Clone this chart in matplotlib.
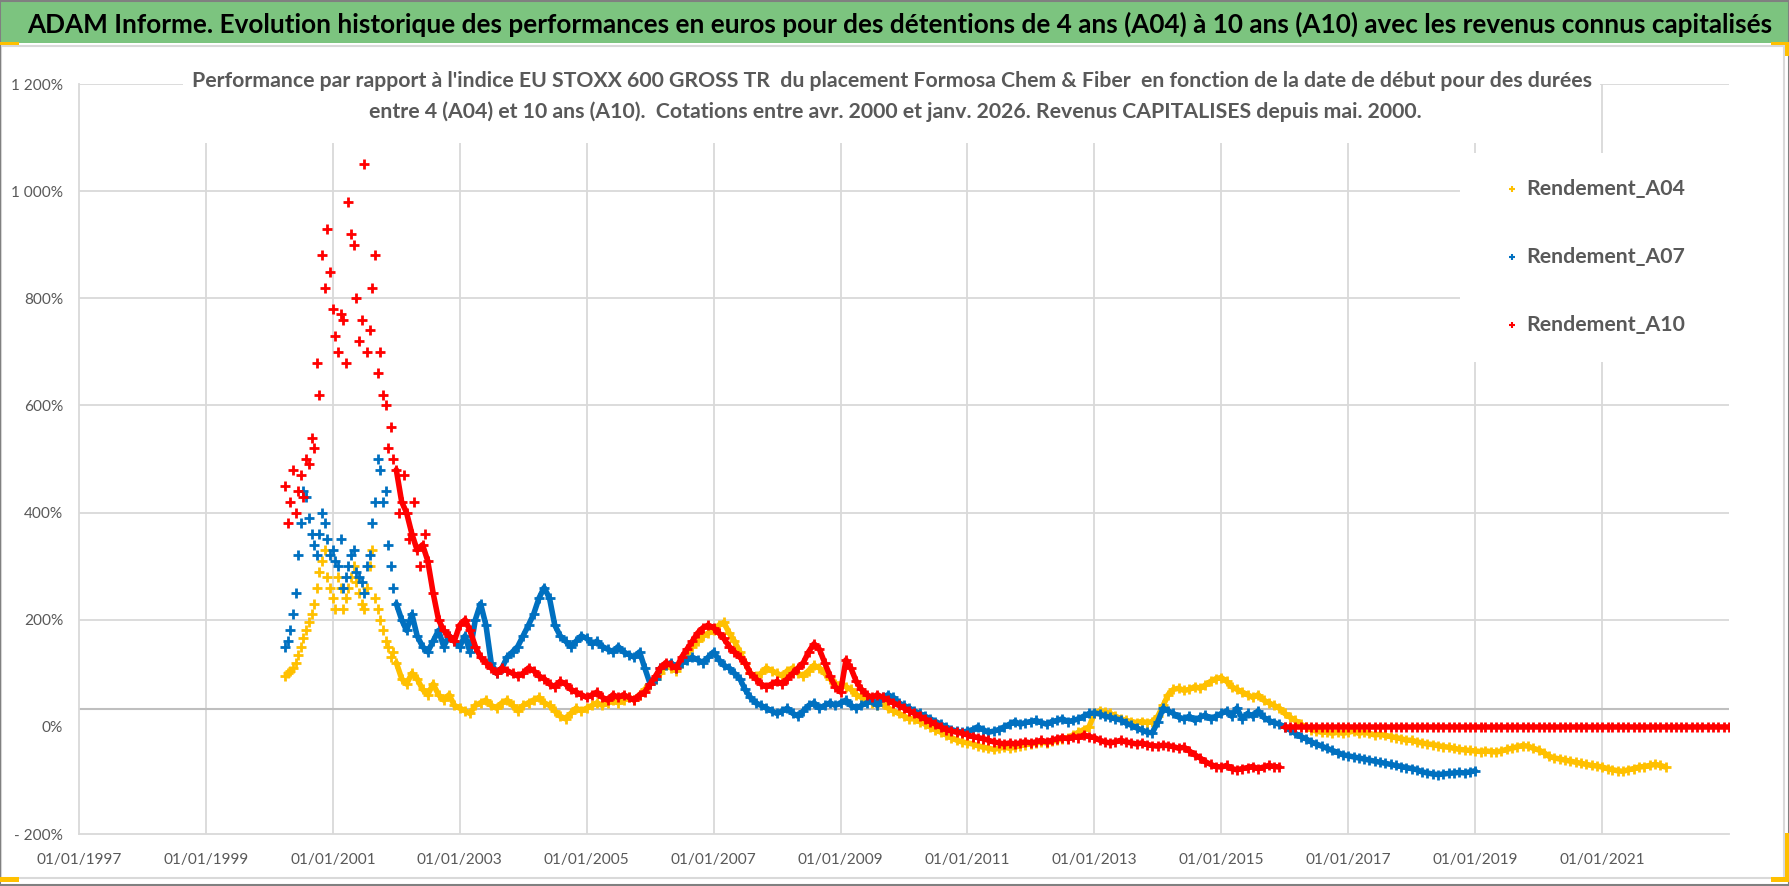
import matplotlib
matplotlib.use("Agg")
import matplotlib.pyplot as plt
from matplotlib.patches import Rectangle
from matplotlib.lines import Line2D
import pandas as pd

# ---------------------------------------
# data (monthly, performance in %)
# ---------------------------------------
a04 = [95, 105, 120, 150, 180, 210, 260, 310, 280,
       240, 280, 220, 260, 300, 250, 220, 300, 240, 200, 160, 130,
       120, 90, 80, 100, 90, 70, 60, 80, 60, 50, 60, 40,
       35, 30, 25, 40, 45, 50, 40, 35, 45, 50, 40, 30,
       40, 45, 50, 55, 45, 40, 30, 20, 15, 25, 35, 30,
       35, 40, 45, 40, 45, 50, 45, 50, 55, 50, 60, 70,
       80, 90, 100, 115, 110, 105, 120, 135, 150, 160, 170, 175,
       180, 190, 195, 175, 160, 140, 120, 100, 95, 100, 110, 105,
       100, 95, 105, 110, 100, 95, 105, 115, 110, 100, 90, 80,
       80, 75, 70, 60, 55, 50, 45, 40, 45, 35, 30, 25,
       20, 15, 15, 10, 5, 0, -5, -10, -15, -20, -25, -28,
       -30, -32, -35, -38, -40, -42, -40, -38, -40, -38, -35, -33,
       -32, -30, -28, -30, -27, -25, -22, -20, -15, -10, -5, 0,
       25, 30, 28, 25, 20, 15, 12, 10, 8, 10, 8, 10,
       20, 40, 60, 70, 72, 68, 70, 75, 72, 78, 85, 90,
       92, 85, 75, 70, 65, 60, 55, 60, 50, 45, 40, 35,
       25, 18, 12, 5, 0, -5, -8, -10, -10, -12, -10, -12,
       -10, -8, -12, -10, -12, -15, -14, -16, -18, -20, -22, -25,
       -25, -28, -30, -32, -33, -35, -37, -38, -40, -42, -43, -44,
       -45, -46, -45, -46, -47, -45, -42, -40, -37, -35, -36, -40,
       -43, -48, -55, -58, -60, -62, -64, -66, -68, -70, -72, -73,
       -75, -78, -80, -82, -83, -80, -78, -75, -74, -72, -70, -72,
       -75]

a07 = [150, 180, 250, 380, 430, 360, 320, 400, 350,
       330, 300, 260, 300, 330, 280, 250, 320, 420, 480, 440, 300,
       230, 200, 180, 210, 170, 150, 140, 160, 180, 150, 170, 160,
       150, 170, 140, 200, 230, 190, 120, 100, 110, 130, 140, 150,
       170, 190, 210, 240, 260, 240, 190, 170, 160, 150, 160, 170,
       165, 155, 160, 150, 145, 140, 150, 140, 135, 130, 140, 110,
       80, 90, 110, 115, 120, 110, 120, 125, 130, 125, 120, 130,
       140, 125, 115, 110, 100, 90, 70, 55, 45, 40, 35, 30,
       25, 30, 35, 25, 20, 30, 40, 45, 35, 40, 45, 40,
       45, 50, 40, 35, 40, 45, 50, 40, 55, 60, 55, 45,
       40, 35, 30, 25, 20, 15, 10, 5, 0, -5, -8, -10,
       -8, -5, 0, -5, -10, -8, -5, 0, 5, 10, 5, 8,
       10, 12, 8, 5, 10, 12, 15, 10, 12, 15, 20, 25,
       26, 24, 20, 18, 15, 13, 7, 3, -2, -6, -10, -11,
       10, 35, 30, 25, 18, 15, 20, 12, 18, 22, 15, 20,
       25, 30, 20, 35, 15, 25, 20, 30, 18, 12, 8, 5,
       0, -6, -12, -18, -22, -28, -32, -36, -40, -44, -48, -52,
       -54, -56, -58, -60, -62, -64, -66, -68, -70, -72, -74, -76,
       -78, -80, -84, -86, -88, -89, -88, -87, -86, -85, -86, -84,
       -82]

a10 = [450, 420, 400, 470, 500, 540, 680, 880, 930,
       780, 700, 760, 980, 900, 720, 1050, 740, 880, 700, 600, 560,
       480, 420, 400, 360, 330, 340, 310, 250, 200, 180, 170, 160,
       190, 200, 180, 150, 130, 120, 110, 100, 110, 105, 100, 95,
       100, 110, 105, 95, 90, 80, 75, 85, 80, 70, 65, 60,
       55, 60, 65, 55, 50, 60, 55, 60, 55, 50, 60, 65,
       80, 95, 110, 120, 115, 110, 130, 145, 160, 175, 185, 190,
       185, 175, 165, 150, 140, 130, 120, 100, 90, 80, 75, 80,
       85, 80, 90, 100, 110, 120, 140, 155, 145, 120, 95, 75,
       65, 125, 110, 85, 70, 60, 55, 60, 55, 50, 45, 40,
       35, 30, 25, 20, 15, 10, 5, 0, -5, -8, -10, -12,
       -15, -18, -20, -22, -25, -28, -30, -32, -30, -32, -30, -28,
       -30, -28, -25, -28, -25, -22, -20, -22, -18, -20, -15, -18,
       -20, -25, -28, -30, -28, -25, -28, -30, -32, -30, -33, -35,
       -36, -34, -35, -37, -40, -38, -45, -52, -58, -65, -70, -74,
       -75, -72, -78, -80, -78, -76, -74, -78, -75, -72, -74, -75]
a10_flat = [0] * 85          # flat 0% values from 01/2016 to 01/2023

# extra mid-month readings in the scattered 2000-2002 part (15th of each month from 04/2000)
a04_mid = [100, 110, 135, 165, 195, 230, 290, 330, 260,
           220, 260, 240, 280, 270, 230, 260, 330, 220, 180, 150, 140]
a07_mid = [160, 210, 320, 440, 390, 340, 360, 380, 320,
           310, 350, 280, 320, 290, 270, 300, 380, 500, 420, 340, 260]
a10_mid = [380, 480, 440, 430, 490, 520, 620, 820, 850,
           730, 770, 680, 920, 800, 760, 700, 820, 660, 620, 520, 500,
           400, 470, 350, 420, 300, 360]

series_names = ["Rendement_A04", "Rendement_A07", "Rendement_A10"]
series_colors = ["#FFC000", "#0070C0", "#FF0000"]

y_ticks = [-200, 0, 200, 400, 600, 800, 1000, 1200]
y_labels = ["- 200%", "0%", "200%", "400%", "600%", "800%", "1 000%", "1 200%"]
x_years = list(range(1997, 2022, 2))
axis_cross = 34               # darker horizontal axis line

title = ("ADAM Informe. Evolution historique des performances en euros pour des détentions "
         "de 4 ans (A04) à 10 ans (A10) avec les revenus connus capitalisés")
subtitle1 = ("Performance par rapport à l'indice EU STOXX 600 GROSS TR  du placement Formosa Chem & Fiber  "
             "en fonction de la date de début pour des durées")
subtitle2 = ("entre 4 (A04) et 10 ans (A10).  Cotations entre avr. 2000 et janv. 2026. "
             "Revenus CAPITALISES depuis mai. 2000.")

# ---------------------------------------
W, H = 1790, 886
FONT = "Lato"
GREY_TXT = "#595959"
GRID = "#D9D9D9"
CALM_START = pd.Timestamp("2002-01-01")   # dense band drawn as a thick trace from here

fig = plt.figure(figsize=(W / 100, H / 100), dpi=100)
fig.patch.set_facecolor("white")


def fx(x):
    return x / W


def fy(y):
    return 1 - y / H


def rect(x0, y0, x1, y1, **kw):
    r = Rectangle((fx(x0), fy(y1)), fx(x1) - fx(x0), fy(y0) - fy(y1),
                  transform=fig.transFigure, **kw)
    fig.add_artist(r)
    return r


renderer = fig.canvas.get_renderer()


def fit(txt, width_px):
    w = txt.get_window_extent(renderer).width
    txt.set_fontsize(txt.get_fontsize() * width_px / w)
    return txt.get_fontsize()


# frames and banner
rect(0, 0, W, 43, facecolor="#7CC47F", edgecolor="none", zorder=-2)
rect(1, 46, 1784, 878, facecolor="white", edgecolor=GRID, lw=1.5, zorder=-2)
rect(0.5, 0.5, W - 1, H - 1, facecolor="none", edgecolor="#808080", lw=1.5, zorder=5)
for (x0, y0, x1, y1) in [(0, 42, 19, 45), (1771, 42, 1790, 45), (1785, 42, 1790, 56),
                         (0, 877, 19, 882), (1771, 877, 1790, 882), (1785, 833, 1790, 882)]:
    rect(x0, y0, x1, y1, facecolor="#FFC000", edgecolor="none", zorder=6)

t = fig.text(fx(27), fy(33), title, fontsize=20, fontweight="bold", family=FONT,
             color="black", ha="left", va="baseline")
fit(t, 1741)

# ---------------------------------------
ax = fig.add_axes([fx(79), fy(834), fx(1729) - fx(79), fy(84) - fy(834)])
ax.patch.set_visible(False)

d04 = pd.date_range("2000-04-01", periods=len(a04), freq="MS")
d07 = pd.date_range("2000-04-01", periods=len(a07), freq="MS")
d10 = pd.date_range("2000-04-01", periods=len(a10), freq="MS")
d10_flat = pd.date_range("2016-01-01", periods=len(a10_flat), freq="MS")


def mid_dates(n):
    return pd.date_range("2000-04-01", periods=n, freq="MS") + pd.Timedelta(days=14)


def draw(d, v, c, label=None):
    s = pd.Series(v, index=d)
    calm = s[s.index >= CALM_START]
    ax.plot(calm.index, calm.values, color=c, lw=4, solid_capstyle="round", zorder=3)
    ax.plot(s.index, s.values, linestyle="none", marker="+", markersize=6.5,
            markeredgewidth=2, color=c, label=label, zorder=3)


for d, v, mid, c, n in zip([d04, d07, d10], [a04, a07, a10], [a04_mid, a07_mid, a10_mid],
                           series_colors, series_names):
    draw(d, v, c, n)
    ax.plot(mid_dates(len(mid)), mid, linestyle="none", marker="+", markersize=6.5,
            markeredgewidth=2, color=c, zorder=3)
draw(d10_flat, a10_flat, series_colors[2])

x_ticks = [pd.Timestamp(f"{y}-01-01") for y in x_years]
ax.set_xlim(pd.Timestamp("1997-01-01"), pd.Timestamp("2023-01-01"))
ax.set_ylim(-200, 1200)

for v in y_ticks:
    if v not in (-200, 0):
        ax.axhline(v, color=GRID, lw=1.3, zorder=1)
for d in x_ticks[1:]:
    ax.axvline(d, color=GRID, lw=1.3, zorder=1)
ax.axhline(axis_cross, color="#BFBFBF", lw=1.5, zorder=1)

for s in ["top", "right"]:
    ax.spines[s].set_visible(False)
for s in ["left", "bottom"]:
    ax.spines[s].set_color(GRID)
    ax.spines[s].set_linewidth(1.3)

probe = fig.text(0, 0, "01/01/1997", fontsize=12, family=FONT)
tick_size = fit(probe, 85)
probe.remove()

ax.set_xticks(x_ticks)
ax.set_xticklabels([d.strftime("%d/%m/%Y") for d in x_ticks])
ax.set_yticks(y_ticks)
ax.set_yticklabels(y_labels)
ax.tick_params(axis="both", length=0, labelcolor=GREY_TXT, labelsize=tick_size)
ax.tick_params(axis="x", pad=14)
ax.tick_params(axis="y", pad=11.5)
for lab in ax.get_xticklabels() + ax.get_yticklabels():
    lab.set_family(FONT)

# ---------------------------------------
# chart title box (hides gridlines behind it)
rect(183, 58, 1600, 143, facecolor="white", edgecolor="none", zorder=2)
s1 = fig.text(fx(892), fy(87), subtitle1, fontsize=16, fontweight="bold", family=FONT,
              color=GREY_TXT, ha="center", va="baseline", zorder=3)
sub_size = fit(s1, 1403)
fig.text(fx(895), fy(118), subtitle2, fontsize=sub_size, fontweight="bold", family=FONT,
         color=GREY_TXT, ha="center", va="baseline", zorder=3)

# legend
rect(1460, 153, 1740, 362, facecolor="white", edgecolor="none", zorder=2)
leg_rows = [189, 257, 325]
leg_size = None
for n, c, y in zip(series_names, series_colors, leg_rows):
    fig.add_artist(Line2D([fx(1512)], [fy(y)], transform=fig.transFigure, linestyle="none",
                          marker="+", markersize=5, markeredgewidth=1.5, color=c, zorder=3))
    lt = fig.text(fx(1526), fy(y), n, fontsize=18, fontweight="bold", family=FONT,
                  color=GREY_TXT, ha="left", va="center", zorder=3)
    if leg_size is None:
        leg_size = fit(lt, 159)
    else:
        lt.set_fontsize(leg_size)

fig.savefig("out.png", dpi=100, facecolor="white")
